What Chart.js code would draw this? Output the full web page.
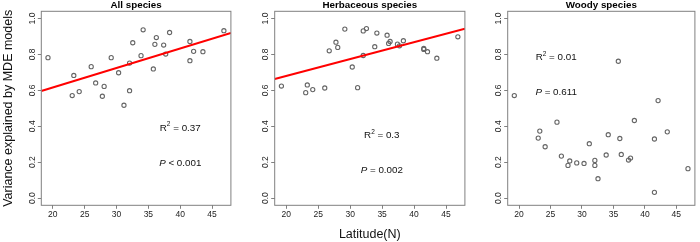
<!DOCTYPE html>
<html>
<head>
<meta charset="utf-8">
<title>Variance explained by MDE models vs latitude</title>
<script src="https://cdn.jsdelivr.net/npm/chart.js@4.4.1/dist/chart.umd.min.js"></script>
<style>
  html, body { margin: 0; padding: 0; background: #fff; }
  #wrap { position: relative; width: 700px; height: 242px; overflow: hidden; }
  #wrap canvas { position: absolute; top: 0; }
</style>
</head>
<body>
<div id="wrap">
  <canvas id="allChart" width="236" height="242" style="left:0px"></canvas>
  <canvas id="herbChart" width="234" height="242" style="left:236px"></canvas>
  <canvas id="woodyChart" width="230" height="242" style="left:470px"></canvas>
</div>
<script>
// Sites, sorted by latitude (same sites in all three panels)
var latitudes = [19.25, 23.05, 23.3, 24.15, 26.03, 26.73, 27.78, 28.06, 29.17, 30.33,
    31.17, 32.05, 32.05, 32.55, 33.85, 34.18, 35.78, 36.02, 36.25, 37.4,
    37.72, 38.33, 41.52, 41.52, 42.1, 43.56, 46.85];

// Variance explained by MDE models, per site
var allSpecies = [0.782, 0.571, 0.683, 0.593, 0.732, 0.641, 0.567, 0.622, 0.782, 0.698,
    0.517, 0.598, 0.752, 0.865, 0.793, 0.937, 0.719, 0.856, 0.894, 0.852,
    0.802, 0.922, 0.872, 0.765, 0.817, 0.815, 0.932];
var herbaceous = [0.624, 0.587, 0.63, 0.604, 0.613, 0.82, 0.868, 0.839, 0.941, 0.73,
    0.615, 0.931, 0.794, 0.944, 0.843, 0.919, 0.907, 0.861, 0.872, 0.857,
    0.848, 0.876, 0.833, 0.828, 0.815, 0.779, 0.898];
var woody = [0.571, 0.334, 0.373, 0.286, 0.423, 0.234, 0.182, 0.207, 0.196, 0.193,
    0.303, 0.21, 0.182, 0.108, 0.24, 0.353, 0.762, 0.332, 0.243, 0.212,
    0.223, 0.432, 0.329, 0.032, 0.543, 0.369, 0.164];

// Axes
var xTicks = [20, 25, 30, 35, 40, 45];
var yTicks = [0, 0.2, 0.4, 0.6, 0.8, 1.0];
var xRange = [18.2, 47.95];
var yRange = [-0.04, 1.04];

// Fitted lines, values read at the two ends of xRange
var allFit = [0.596, 0.919];
var herbFit = [0.663, 0.943];

var FONT = "'Liberation Sans', Arial, Helvetica, sans-serif";
var BOX = '#808080';

var panels = [{
    id: 'allChart',
    title: 'All species',
    values: allSpecies,
    fit: allFit,
    r2: '0.37', pOp: '<', p: '0.001',
    note: [40.0, 0.39, 0.193],
    axisWidth: 41.3, padRight: 5,
    yTitle: true, xTitle: false
}, {
    id: 'herbChart',
    title: 'Herbaceous species',
    values: herbaceous,
    fit: herbFit,
    r2: '0.3', pOp: '=', p: '0.002',
    note: [34.95, 0.35, 0.156],
    axisWidth: 38.7, padRight: 4.3,
    yTitle: false, xTitle: true
}, {
    id: 'woodyChart',
    title: 'Woody species',
    values: woody,
    fit: null,
    r2: '0.01', pOp: '=', p: '0.611',
    note: [25.9, 0.782, 0.588],
    axisWidth: 37.7, padRight: 0.7,
    yTitle: false, xTitle: false
}];

/**
 * Draw a row of text pieces centred on (cx, cy).
 */
var drawPieces = function(ctx, cx, cy, pieces) {
    var total = 0;
    pieces.forEach(function(p) {
        ctx.font = p.font;
        p.w = ctx.measureText(p.text).width;
        total += p.w;
    });
    var x = cx - total / 2;
    ctx.textAlign = 'left';
    ctx.textBaseline = 'middle';
    pieces.forEach(function(p) {
        ctx.font = p.font;
        ctx.fillText(p.text, x, cy + (p.dy || 0));
        x += p.w;
    });
};

// Box, panel title, rotated y tick labels and the R2 / P notes
var decorPlugin = {
    id: 'decor',
    afterDraw: function(chart) {
        var cfg = chart.options.plugins.decor;
        var ctx = chart.ctx;
        var area = chart.chartArea;
        var xs = chart.scales.x;
        var ys = chart.scales.y;

        ctx.save();
        ctx.strokeStyle = BOX;
        ctx.lineWidth = 1;
        ctx.strokeRect(area.left, area.top, area.right - area.left, area.bottom - area.top);

        ctx.fillStyle = '#000';
        ctx.font = 'bold 9.8px ' + FONT;
        ctx.textAlign = 'center';
        ctx.textBaseline = 'middle';
        ctx.fillText(cfg.title, (area.left + area.right) / 2, 5.7);

        ctx.fillStyle = '#222';
        ctx.font = '8.5px ' + FONT;
        yTicks.forEach(function(v) {
            ctx.save();
            ctx.translate(area.left - 9, ys.getPixelForValue(v));
            ctx.rotate(-Math.PI / 2);
            ctx.textAlign = 'center';
            ctx.textBaseline = 'middle';
            ctx.fillText(v.toFixed(1), 0, 0);
            ctx.restore();
        });

        ctx.fillStyle = '#111';
        var nx = xs.getPixelForValue(cfg.note[0]);
        drawPieces(ctx, nx, ys.getPixelForValue(cfg.note[1]), [
            {text: 'R', font: '9.8px ' + FONT},
            {text: '2', font: '6.5px ' + FONT, dy: -3.5},
            {text: ' = ' + cfg.r2, font: '9.8px ' + FONT}
        ]);
        drawPieces(ctx, nx, ys.getPixelForValue(cfg.note[2]), [
            {text: 'P', font: 'italic 9.8px ' + FONT},
            {text: ' ' + cfg.pOp + ' ' + cfg.p, font: '9.8px ' + FONT}
        ]);
        ctx.restore();
    }
};

var makeChart = function(panel) {
    var datasets = [];
    if (panel.fit) {
        datasets.push({
            type: 'line',
            data: [{x: xRange[0], y: panel.fit[0]}, {x: xRange[1], y: panel.fit[1]}],
            borderColor: '#ff0000',
            borderWidth: 2,
            pointRadius: 0,
            fill: false
        });
    }
    datasets.push({
        type: 'scatter',
        data: latitudes.map(function(lat, i) {
            return {x: lat, y: panel.values[i]};
        }),
        pointRadius: 2.1,
        pointBorderWidth: 1.1,
        pointBorderColor: '#666666',
        pointBackgroundColor: 'rgba(0,0,0,0)'
    });

    return new Chart(document.getElementById(panel.id), {
        type: 'scatter',
        data: {datasets: datasets},
        plugins: [decorPlugin],
        options: {
            responsive: false,
            animation: false,
            events: [],
            layout: {padding: {top: 11.3, right: panel.padRight, bottom: 0, left: 0}},
            plugins: {
                legend: {display: false},
                tooltip: {enabled: false},
                decor: panel
            },
            scales: {
                x: {
                    type: 'linear',
                    min: xRange[0],
                    max: xRange[1],
                    afterBuildTicks: function(scale) {
                        scale.ticks = xTicks.map(function(v) {
                            return {value: v};
                        });
                    },
                    afterFit: function(scale) {
                        scale.height = 36.7;
                    },
                    ticks: {
                        autoSkip: false,
                        maxRotation: 0,
                        padding: 1,
                        color: '#222',
                        font: {family: FONT, size: 8.5}
                    },
                    grid: {drawOnChartArea: false, drawTicks: true, tickLength: 3.5, color: BOX},
                    border: {display: false},
                    title: {
                        display: panel.xTitle,
                        text: 'Latitude(N)',
                        color: '#111',
                        font: {family: FONT, size: 12.5},
                        padding: {top: 0, bottom: 0}
                    }
                },
                y: {
                    type: 'linear',
                    min: yRange[0],
                    max: yRange[1],
                    afterBuildTicks: function(scale) {
                        scale.ticks = yTicks.map(function(v) {
                            return {value: v};
                        });
                    },
                    afterFit: function(scale) {
                        scale.width = panel.axisWidth;
                    },
                    ticks: {display: false},
                    grid: {drawOnChartArea: false, drawTicks: true, tickLength: 3.5, color: BOX},
                    border: {display: false},
                    title: {
                        display: panel.yTitle,
                        text: 'Variance explained by MDE models',
                        color: '#111',
                        font: {family: FONT, size: 12.5},
                        padding: {top: 1.5, bottom: 0}
                    }
                }
            }
        }
    });
};

panels.forEach(makeChart);
</script>
</body>
</html>
